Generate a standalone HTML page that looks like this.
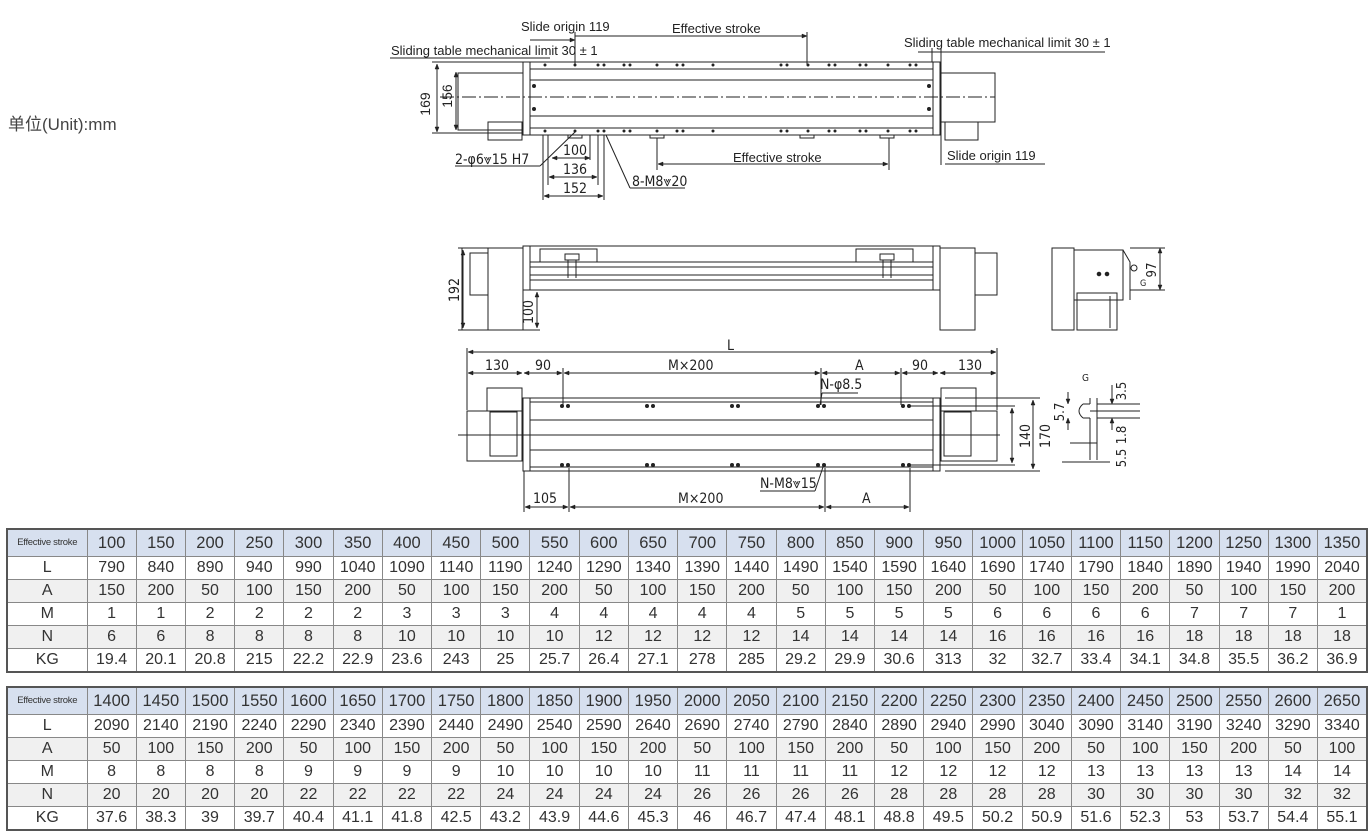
<!DOCTYPE html>
<html><head><meta charset="utf-8"><style>
body{margin:0;background:#fff;width:1370px;height:831px;overflow:hidden;position:relative;font-family:"Liberation Sans","Noto Sans CJK SC",sans-serif}
svg{position:absolute;left:0;top:0}
table{position:absolute;left:6px;border-collapse:collapse;table-layout:fixed;width:1362px;border:2px solid #555;font-family:"Liberation Sans",sans-serif;color:#333}
td{border:1px solid #888;text-align:center;font-size:16px;padding:0;height:22px;line-height:22px;overflow:hidden;white-space:nowrap}
tr.h td{background:#d7e0ef;height:26px;font-size:16.5px}
tr.g td{background:#f0f0f0}
tr.h td.f{font-size:9.5px;letter-spacing:-0.3px}
</style></head><body>
<div style="position:absolute;left:8px;top:110px;font-size:17px;color:#444;font-family:'Liberation Sans','Noto Sans CJK SC',sans-serif">单位(Unit):mm</div>
<svg width="1370" height="520" viewBox="0 0 1370 520" fill="none" stroke="#222" stroke-width="1" font-family="Liberation Sans, sans-serif">
<defs><marker id="a" viewBox="0 0 10 10" refX="10" refY="5" markerWidth="7" markerHeight="5" orient="auto-start-reverse"><path d="M0,1L10,5L0,9z" fill="#222"/></marker></defs>
<!-- TOP VIEW -->
<rect x="523" y="62" width="417" height="73"/>
<line x1="530" y1="62" x2="530" y2="135"/><line x1="933" y1="62" x2="933" y2="135"/>
<line x1="530" y1="69" x2="933" y2="69"/><line x1="530" y1="128" x2="933" y2="128"/>
<line x1="530" y1="80" x2="933" y2="80"/><line x1="530" y1="116" x2="933" y2="116"/>
<rect x="458" y="73" width="65" height="57"/><rect x="488" y="122" width="34" height="18"/>
<rect x="940" y="73" width="55" height="49"/><rect x="945" y="122" width="33" height="18"/>
<line x1="440" y1="97" x2="995" y2="97" stroke-dasharray="14,3,2,3"/>
<g fill="#222" stroke="none">
<circle cx="545" cy="65" r="1.5"/><circle cx="575" cy="65" r="1.5"/><circle cx="598" cy="65" r="1.5"/><circle cx="604" cy="65" r="1.5"/><circle cx="624" cy="65" r="1.5"/><circle cx="630" cy="65" r="1.5"/><circle cx="657" cy="65" r="1.5"/><circle cx="677" cy="65" r="1.5"/><circle cx="683" cy="65" r="1.5"/><circle cx="713" cy="65" r="1.5"/><circle cx="781" cy="65" r="1.5"/><circle cx="787" cy="65" r="1.5"/><circle cx="808" cy="65" r="1.5"/><circle cx="829" cy="65" r="1.5"/><circle cx="835" cy="65" r="1.5"/><circle cx="860" cy="65" r="1.5"/><circle cx="866" cy="65" r="1.5"/><circle cx="888" cy="65" r="1.5"/><circle cx="910" cy="65" r="1.5"/><circle cx="916" cy="65" r="1.5"/>
<circle cx="545" cy="131" r="1.5"/><circle cx="575" cy="131" r="1.5"/><circle cx="598" cy="131" r="1.5"/><circle cx="604" cy="131" r="1.5"/><circle cx="624" cy="131" r="1.5"/><circle cx="630" cy="131" r="1.5"/><circle cx="657" cy="131" r="1.5"/><circle cx="677" cy="131" r="1.5"/><circle cx="683" cy="131" r="1.5"/><circle cx="713" cy="131" r="1.5"/><circle cx="781" cy="131" r="1.5"/><circle cx="787" cy="131" r="1.5"/><circle cx="808" cy="131" r="1.5"/><circle cx="829" cy="131" r="1.5"/><circle cx="835" cy="131" r="1.5"/><circle cx="860" cy="131" r="1.5"/><circle cx="866" cy="131" r="1.5"/><circle cx="888" cy="131" r="1.5"/><circle cx="910" cy="131" r="1.5"/><circle cx="916" cy="131" r="1.5"/>
<circle cx="534" cy="86" r="2"/><circle cx="534" cy="109" r="2"/><circle cx="929" cy="86" r="2"/><circle cx="929" cy="109" r="2"/>
</g>
<rect x="568" y="135" width="14" height="3"/><rect x="650" y="135" width="14" height="3"/><rect x="800" y="135" width="14" height="3"/><rect x="880" y="135" width="14" height="3"/>
<line x1="432" y1="62" x2="523" y2="62"/><line x1="432" y1="133" x2="523" y2="133"/>
<line x1="437" y1="64" x2="437" y2="132" marker-start="url(#a)" marker-end="url(#a)"/>
<line x1="456" y1="72" x2="456" y2="130" marker-start="url(#a)" marker-end="url(#a)"/>
<text x="430" y="104" transform="rotate(-90 430 104)" fill="#222" stroke="none" font-size="14" text-anchor="middle">169</text>
<text x="452" y="96" transform="rotate(-90 452 96)" fill="#222" stroke="none" font-size="14" text-anchor="middle">156</text>
<line x1="575" y1="36" x2="807" y2="36" marker-end="url(#a)"/><line x1="807" y1="32" x2="807" y2="65"/>
<line x1="575" y1="32" x2="575" y2="65"/>
<line x1="530" y1="40" x2="575" y2="40" marker-end="url(#a)"/>
<text x="521" y="31" fill="#222" stroke="none" font-size="13">Slide origin 119</text>
<text x="672" y="33" fill="#222" stroke="none" font-size="13">Effective stroke</text>
<line x1="390" y1="58" x2="550" y2="58"/>
<text x="391" y="55" fill="#222" stroke="none" font-size="13">Sliding table mechanical limit 30 ± 1</text>
<line x1="918" y1="52" x2="1105" y2="52"/><line x1="932" y1="48" x2="932" y2="62"/><line x1="941" y1="48" x2="941" y2="165"/>
<text x="904" y="47" fill="#222" stroke="none" font-size="13">Sliding table mechanical limit 30 ± 1</text>
<text x="947" y="160" fill="#222" stroke="none" font-size="13">Slide origin 119</text>
<line x1="945" y1="164" x2="1045" y2="164"/>
<line x1="657" y1="138" x2="657" y2="170"/><line x1="889" y1="138" x2="889" y2="170"/>
<line x1="658" y1="164" x2="888" y2="164" marker-start="url(#a)" marker-end="url(#a)"/>
<text x="733" y="162" fill="#222" stroke="none" font-size="13">Effective stroke</text>
<line x1="543" y1="135" x2="543" y2="200"/><line x1="548" y1="135" x2="548" y2="185"/><line x1="604" y1="135" x2="604" y2="200"/><line x1="598" y1="135" x2="598" y2="185"/><line x1="590" y1="135" x2="590" y2="160"/>
<line x1="552" y1="158" x2="590" y2="158" marker-start="url(#a)" marker-end="url(#a)"/>
<line x1="549" y1="177" x2="597" y2="177" marker-start="url(#a)" marker-end="url(#a)"/>
<line x1="544" y1="196" x2="603" y2="196" marker-start="url(#a)" marker-end="url(#a)"/>
<g fill="#222" stroke="none" font-size="14" font-family="DejaVu Sans Condensed, Liberation Sans Narrow, sans-serif"><text x="563" y="155">100</text><text x="563" y="174">136</text><text x="563" y="193">152</text><text x="455" y="164">2-φ6⩔15 H7</text><text x="632" y="186">8-M8⩔20</text></g>
<line x1="455" y1="166" x2="540" y2="166"/><line x1="540" y1="166" x2="575" y2="132"/>
<line x1="630" y1="188" x2="685" y2="188"/><line x1="630" y1="188" x2="606" y2="135"/>
<!-- MIDDLE VIEW -->
<rect x="462" y="248" width="61" height="82"/><line x1="488" y1="248" x2="488" y2="330"/>
<rect x="470" y="253" width="18" height="42"/>
<rect x="523" y="246" width="417" height="44"/><line x1="530" y1="246" x2="530" y2="290"/><line x1="933" y1="246" x2="933" y2="290"/>
<line x1="530" y1="262" x2="933" y2="262"/><line x1="530" y1="267" x2="933" y2="267"/><line x1="530" y1="275" x2="933" y2="275"/><line x1="530" y1="280" x2="933" y2="280"/>
<rect x="540" y="249" width="57" height="13"/><rect x="856" y="249" width="57" height="13"/>
<rect x="565" y="254" width="14" height="6"/><rect x="880" y="254" width="14" height="6"/>
<line x1="568" y1="260" x2="568" y2="278"/><line x1="576" y1="260" x2="576" y2="278"/><line x1="883" y1="260" x2="883" y2="278"/><line x1="891" y1="260" x2="891" y2="278"/>
<rect x="940" y="248" width="35" height="82"/><rect x="975" y="253" width="22" height="42"/>
<line x1="458" y1="248" x2="462" y2="248"/><line x1="458" y1="330" x2="540" y2="330"/>
<line x1="463" y1="250" x2="463" y2="328" marker-start="url(#a)" marker-end="url(#a)"/>
<line x1="537" y1="292" x2="537" y2="328" marker-start="url(#a)" marker-end="url(#a)"/>
<g fill="#222" stroke="none" font-size="14" font-family="DejaVu Sans Condensed, sans-serif"><text x="459" y="290" transform="rotate(-90 459 290)" text-anchor="middle">192</text><text x="533" y="312" transform="rotate(-90 533 312)" text-anchor="middle">100</text></g>
<rect x="1052" y="248" width="22" height="82"/><path d="M1074 250H1123V300H1074"/><path d="M1123 250L1130 262V300"/>
<rect x="1077" y="293" width="40" height="37"/><line x1="1110" y1="296" x2="1110" y2="328"/>
<circle cx="1099" cy="274" r="1.8" fill="#222"/><circle cx="1107" cy="274" r="1.8" fill="#222"/><circle cx="1134" cy="268" r="3"/>
<line x1="1160" y1="248" x2="1160" y2="290" marker-start="url(#a)" marker-end="url(#a)"/><line x1="1130" y1="248" x2="1165" y2="248"/><line x1="1130" y1="290" x2="1165" y2="290"/>
<g fill="#222" stroke="none" font-size="13" font-family="DejaVu Sans Condensed, sans-serif"><text x="1156" y="270" transform="rotate(-90 1156 270)" text-anchor="middle">97</text><text x="1140" y="286" font-size="9">G</text></g>
<!-- BOTTOM VIEW -->
<line x1="468" y1="352" x2="996" y2="352" marker-start="url(#a)" marker-end="url(#a)"/>
<line x1="467" y1="348" x2="467" y2="410"/><line x1="997" y1="348" x2="997" y2="410"/>
<line x1="468" y1="373" x2="522" y2="373" marker-start="url(#a)" marker-end="url(#a)"/>
<line x1="524" y1="373" x2="562" y2="373" marker-start="url(#a)" marker-end="url(#a)"/>
<line x1="564" y1="373" x2="820" y2="373" marker-start="url(#a)" marker-end="url(#a)"/>
<line x1="822" y1="373" x2="900" y2="373" marker-start="url(#a)" marker-end="url(#a)"/>
<line x1="902" y1="373" x2="938" y2="373" marker-start="url(#a)" marker-end="url(#a)"/>
<line x1="940" y1="373" x2="996" y2="373" marker-start="url(#a)" marker-end="url(#a)"/>
<line x1="563" y1="368" x2="563" y2="405"/><line x1="821" y1="368" x2="821" y2="405"/><line x1="901" y1="368" x2="901" y2="405"/>
<rect x="523" y="398" width="417" height="73"/><line x1="530" y1="398" x2="530" y2="471"/><line x1="933" y1="398" x2="933" y2="471"/>
<line x1="530" y1="402" x2="933" y2="402"/><line x1="530" y1="467" x2="933" y2="467"/><line x1="530" y1="420" x2="933" y2="420"/><line x1="530" y1="450" x2="933" y2="450"/>
<line x1="458" y1="435" x2="1000" y2="435"/>
<rect x="467" y="411" width="55" height="50"/><rect x="487" y="388" width="35" height="23"/><rect x="490" y="412" width="27" height="44"/>
<rect x="941" y="411" width="56" height="50"/><rect x="941" y="388" width="35" height="23"/><rect x="944" y="412" width="27" height="44"/>
<g fill="#222" stroke="none"><circle cx="562" cy="406" r="2"/><circle cx="568" cy="406" r="2"/><circle cx="647" cy="406" r="2"/><circle cx="653" cy="406" r="2"/><circle cx="732" cy="406" r="2"/><circle cx="738" cy="406" r="2"/><circle cx="818" cy="406" r="2"/><circle cx="824" cy="406" r="2"/><circle cx="903" cy="406" r="2"/><circle cx="909" cy="406" r="2"/>
<circle cx="562" cy="465" r="2"/><circle cx="568" cy="465" r="2"/><circle cx="647" cy="465" r="2"/><circle cx="653" cy="465" r="2"/><circle cx="732" cy="465" r="2"/><circle cx="738" cy="465" r="2"/><circle cx="818" cy="465" r="2"/><circle cx="824" cy="465" r="2"/><circle cx="903" cy="465" r="2"/><circle cx="909" cy="465" r="2"/></g>
<line x1="910" y1="406" x2="1015" y2="406"/><line x1="910" y1="465" x2="1015" y2="465"/><line x1="945" y1="398" x2="1040" y2="398"/><line x1="945" y1="471" x2="1040" y2="471"/>
<line x1="1012" y1="408" x2="1012" y2="463" marker-start="url(#a)" marker-end="url(#a)"/>
<line x1="1033" y1="400" x2="1033" y2="469" marker-start="url(#a)" marker-end="url(#a)"/>
<line x1="524" y1="471" x2="524" y2="512"/><line x1="569" y1="468" x2="569" y2="512"/><line x1="825" y1="468" x2="825" y2="512"/><line x1="910" y1="468" x2="910" y2="512"/>
<line x1="525" y1="507" x2="568" y2="507" marker-start="url(#a)" marker-end="url(#a)"/>
<line x1="570" y1="507" x2="824" y2="507" marker-start="url(#a)" marker-end="url(#a)"/>
<line x1="826" y1="507" x2="909" y2="507" marker-start="url(#a)" marker-end="url(#a)"/>
<line x1="822" y1="393" x2="858" y2="393"/><line x1="822" y1="393" x2="820" y2="405"/>
<line x1="760" y1="491" x2="815" y2="491"/><line x1="815" y1="491" x2="823" y2="467"/>
<g fill="#222" stroke="none" font-size="14" font-family="DejaVu Sans Condensed, sans-serif">
<text x="727" y="350">L</text><text x="485" y="370">130</text><text x="535" y="370">90</text><text x="668" y="370">M×200</text><text x="855" y="370">A</text><text x="912" y="370">90</text><text x="958" y="370">130</text>
<text x="820" y="389">N-φ8.5</text><text x="760" y="488">N-M8⩔15</text>
<text x="533" y="503">105</text><text x="678" y="503">M×200</text><text x="862" y="503">A</text>
<text x="1030" y="436" transform="rotate(-90 1030 436)" text-anchor="middle">140</text><text x="1050" y="436" transform="rotate(-90 1050 436)" text-anchor="middle">170</text>
</g>
<path d="M1083 404H1090M1083 418H1090M1083 404Q1075 411 1083 418M1090 404V398M1090 418V460M1097 398V460"/>
<line x1="1090" y1="411" x2="1140" y2="411"/><line x1="1097" y1="404" x2="1140" y2="404"/><line x1="1097" y1="418" x2="1140" y2="418"/>
<line x1="1068" y1="392" x2="1068" y2="404" marker-end="url(#a)"/><line x1="1068" y1="430" x2="1068" y2="418" marker-end="url(#a)"/>
<line x1="1112" y1="385" x2="1112" y2="404" marker-end="url(#a)"/><line x1="1112" y1="430" x2="1112" y2="418" marker-end="url(#a)"/>
<line x1="1070" y1="443" x2="1097" y2="443"/><line x1="1062" y1="462" x2="1110" y2="462"/>
<g fill="#222" stroke="none" font-size="13" font-family="DejaVu Sans Condensed, sans-serif"><text x="1082" y="381" font-size="10">G</text>
<text x="1064" y="412" transform="rotate(-90 1064 412)" text-anchor="middle">5.7</text><text x="1126" y="391" transform="rotate(-90 1126 391)" text-anchor="middle">3.5</text>
<text x="1126" y="435" transform="rotate(-90 1126 435)" text-anchor="middle">1.8</text><text x="1126" y="458" transform="rotate(-90 1126 458)" text-anchor="middle">5.5</text></g>
</svg>
<table style="top:528px"><colgroup><col style="width:80px"></colgroup>
<tr class="h"><td class="f">Effective stroke</td><td>100</td><td>150</td><td>200</td><td>250</td><td>300</td><td>350</td><td>400</td><td>450</td><td>500</td><td>550</td><td>600</td><td>650</td><td>700</td><td>750</td><td>800</td><td>850</td><td>900</td><td>950</td><td>1000</td><td>1050</td><td>1100</td><td>1150</td><td>1200</td><td>1250</td><td>1300</td><td>1350</td></tr>
<tr><td>L</td><td>790</td><td>840</td><td>890</td><td>940</td><td>990</td><td>1040</td><td>1090</td><td>1140</td><td>1190</td><td>1240</td><td>1290</td><td>1340</td><td>1390</td><td>1440</td><td>1490</td><td>1540</td><td>1590</td><td>1640</td><td>1690</td><td>1740</td><td>1790</td><td>1840</td><td>1890</td><td>1940</td><td>1990</td><td>2040</td></tr>
<tr class="g"><td>A</td><td>150</td><td>200</td><td>50</td><td>100</td><td>150</td><td>200</td><td>50</td><td>100</td><td>150</td><td>200</td><td>50</td><td>100</td><td>150</td><td>200</td><td>50</td><td>100</td><td>150</td><td>200</td><td>50</td><td>100</td><td>150</td><td>200</td><td>50</td><td>100</td><td>150</td><td>200</td></tr>
<tr><td>M</td><td>1</td><td>1</td><td>2</td><td>2</td><td>2</td><td>2</td><td>3</td><td>3</td><td>3</td><td>4</td><td>4</td><td>4</td><td>4</td><td>4</td><td>5</td><td>5</td><td>5</td><td>5</td><td>6</td><td>6</td><td>6</td><td>6</td><td>7</td><td>7</td><td>7</td><td>1</td></tr>
<tr class="g"><td>N</td><td>6</td><td>6</td><td>8</td><td>8</td><td>8</td><td>8</td><td>10</td><td>10</td><td>10</td><td>10</td><td>12</td><td>12</td><td>12</td><td>12</td><td>14</td><td>14</td><td>14</td><td>14</td><td>16</td><td>16</td><td>16</td><td>16</td><td>18</td><td>18</td><td>18</td><td>18</td></tr>
<tr><td>KG</td><td>19.4</td><td>20.1</td><td>20.8</td><td>215</td><td>22.2</td><td>22.9</td><td>23.6</td><td>243</td><td>25</td><td>25.7</td><td>26.4</td><td>27.1</td><td>278</td><td>285</td><td>29.2</td><td>29.9</td><td>30.6</td><td>313</td><td>32</td><td>32.7</td><td>33.4</td><td>34.1</td><td>34.8</td><td>35.5</td><td>36.2</td><td>36.9</td></tr>
</table>
<table style="top:686px"><colgroup><col style="width:80px"></colgroup>
<tr class="h"><td class="f">Effective stroke</td><td>1400</td><td>1450</td><td>1500</td><td>1550</td><td>1600</td><td>1650</td><td>1700</td><td>1750</td><td>1800</td><td>1850</td><td>1900</td><td>1950</td><td>2000</td><td>2050</td><td>2100</td><td>2150</td><td>2200</td><td>2250</td><td>2300</td><td>2350</td><td>2400</td><td>2450</td><td>2500</td><td>2550</td><td>2600</td><td>2650</td></tr>
<tr><td>L</td><td>2090</td><td>2140</td><td>2190</td><td>2240</td><td>2290</td><td>2340</td><td>2390</td><td>2440</td><td>2490</td><td>2540</td><td>2590</td><td>2640</td><td>2690</td><td>2740</td><td>2790</td><td>2840</td><td>2890</td><td>2940</td><td>2990</td><td>3040</td><td>3090</td><td>3140</td><td>3190</td><td>3240</td><td>3290</td><td>3340</td></tr>
<tr class="g"><td>A</td><td>50</td><td>100</td><td>150</td><td>200</td><td>50</td><td>100</td><td>150</td><td>200</td><td>50</td><td>100</td><td>150</td><td>200</td><td>50</td><td>100</td><td>150</td><td>200</td><td>50</td><td>100</td><td>150</td><td>200</td><td>50</td><td>100</td><td>150</td><td>200</td><td>50</td><td>100</td></tr>
<tr><td>M</td><td>8</td><td>8</td><td>8</td><td>8</td><td>9</td><td>9</td><td>9</td><td>9</td><td>10</td><td>10</td><td>10</td><td>10</td><td>11</td><td>11</td><td>11</td><td>11</td><td>12</td><td>12</td><td>12</td><td>12</td><td>13</td><td>13</td><td>13</td><td>13</td><td>14</td><td>14</td></tr>
<tr class="g"><td>N</td><td>20</td><td>20</td><td>20</td><td>20</td><td>22</td><td>22</td><td>22</td><td>22</td><td>24</td><td>24</td><td>24</td><td>24</td><td>26</td><td>26</td><td>26</td><td>26</td><td>28</td><td>28</td><td>28</td><td>28</td><td>30</td><td>30</td><td>30</td><td>30</td><td>32</td><td>32</td></tr>
<tr><td>KG</td><td>37.6</td><td>38.3</td><td>39</td><td>39.7</td><td>40.4</td><td>41.1</td><td>41.8</td><td>42.5</td><td>43.2</td><td>43.9</td><td>44.6</td><td>45.3</td><td>46</td><td>46.7</td><td>47.4</td><td>48.1</td><td>48.8</td><td>49.5</td><td>50.2</td><td>50.9</td><td>51.6</td><td>52.3</td><td>53</td><td>53.7</td><td>54.4</td><td>55.1</td></tr>
</table>
</body></html>
